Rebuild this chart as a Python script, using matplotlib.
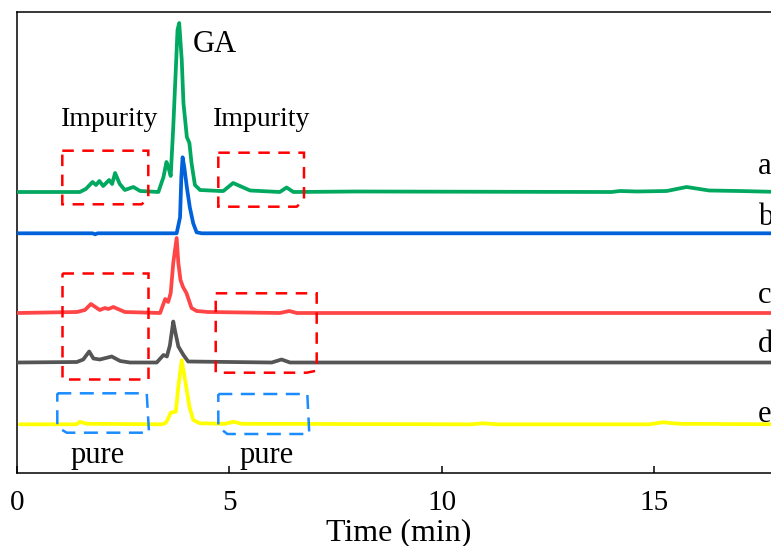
import matplotlib
matplotlib.use("Agg")
import matplotlib.pyplot as plt
from matplotlib.patches import Polygon

plt.rcParams['font.family'] = ['Liberation Serif', 'DejaVu Serif']

# ---- data: retention time (min) and signal above each trace's baseline ----
t_a = [0, 1.48, 1.62, 1.78, 1.86, 1.94, 2.03, 2.17, 2.24, 2.31, 2.42, 2.54, 2.74, 2.90,
       3.33, 3.45, 3.52, 3.57, 3.62, 3.68, 3.75, 3.78, 3.82, 3.88, 3.92, 4.00, 4.06,
       4.11, 4.19, 4.31, 4.78, 4.86, 5.09, 5.49, 6.19, 6.35, 6.51, 8.0, 14.0, 14.2,
       14.6, 15.3, 15.77, 16.3, 17.0, 18.0]
s_a = [0, 0, 3, 10, 7, 11, 6, 12, 8, 19, 8, 2, 5, 1,
       0, 15, 30, 24, 16, 65, 132, 162, 169, 132, 89, 55, 49,
       29, 7, 2, 1, 1, 9, 1.5, 0, 4.5, 0, 0.5, 0, 1,
       0.5, 1, 5, 1.5, 1, 0]

t_b = [0, 1.78, 1.84, 1.90, 3.76, 3.84, 3.87, 3.90, 3.94, 4.00, 4.07, 4.15, 4.23, 4.35, 18.0]
s_b = [0, 0, -1, 0, 0, 16, 56, 76, 66, 46, 26, 10, 1, 0, 0]

t_c = [0, 1.41, 1.60, 1.74, 1.95, 2.07, 2.15, 2.27, 2.54, 3.37, 3.49, 3.56, 3.62, 3.68,
       3.76, 3.80, 3.85, 3.91, 3.99, 4.11, 4.23, 4.5, 6.19, 6.41, 6.59, 18.0]
s_c = [0, 1, 3, 9, 3, 5, 4, 6, 1, 0, 14, 11, 20, 50,
       75, 50, 33, 26, 20, 5, 2, 1, 0, 2, 0, 0]

t_d = [0, 1.41, 1.56, 1.70, 1.80, 1.95, 2.23, 2.43, 2.66, 3.29, 3.45, 3.53, 3.60, 3.68,
       3.72, 3.80, 3.92, 4.03, 6.0, 6.23, 6.43, 18.0]
s_d = [0, 0.5, 3, 11, 4, 3, 6, 1.5, 0, 0, 7.5, 6, 17, 41,
       32, 16, 7.5, 1, 0, 3, 0, 0]

t_e = [0.07, 1.40, 1.48, 1.64, 3.40, 3.49, 3.54, 3.62, 3.74, 3.80, 3.88, 3.96, 4.06,
       4.15, 4.31, 4.9, 5.09, 5.3, 10.7, 10.97, 11.3, 14.9, 15.2, 15.6, 18.0]
s_e = [0, 0, 2.5, 0.5, 0, 1, 4, 11.6, 12.6, 38, 64, 44, 17.6,
       4.3, 1, 0.5, 2.5, 0.5, 0, 1, 0, 0, 2, 0.5, 0]

offsets = [281, 239.7, 160, 110.5, 48.7]
trace_labels = ['a', 'b', 'c', 'd', 'e']
label_y = [299, 248.3, 170, 121, 51.4]
colors = ['#00A860', '#0062DB', '#FF4545', '#555555', '#FFFF00']

x_ticks = [0, 5, 10, 15]

# dashed boxes (time, stacked-signal) corners
red_boxes = [
    [(1.067, 322.3), (3.092, 322.3), (3.092, 275), (2.937, 268.7), (1.067, 268.7)],
    [(4.741, 320.3), (6.759, 320.3), (6.759, 273), (6.587, 266.3), (4.741, 266.3)],
    [(1.067, 199.7), (3.078, 199.7), (3.078, 93.7), (1.067, 93.7)],
    [(4.680, 179.7), (7.058, 179.7), (7.058, 102.3), (6.823, 100.3), (4.680, 100.3)],
]
blue_boxes = [
    [(0.949, 79.7), (3.055, 79.7), (3.109, 40.3), (1.170, 40.3), (0.949, 46)],
    [(4.741, 79), (6.837, 79), (6.884, 39), (4.953, 39), (4.741, 46)],
]

fig = plt.figure(figsize=(7.71, 5.46), dpi=100)
ax = fig.add_axes([17 / 771, 73 / 546, 764.3 / 771, 461 / 546])

series = [(t_a, s_a), (t_b, s_b), (t_c, s_c), (t_d, s_d), (t_e, s_e)]
for (tt, ss), off, col in zip(series, offsets, colors):
    ax.plot(tt, [v + off for v in ss], color=col, lw=2.7, solid_joinstyle='round',
            solid_capstyle='round', zorder=3)

for pts in red_boxes:
    ax.add_patch(Polygon(pts, closed=True, fill=False, edgecolor='#FF0000', lw=1.8,
                         linestyle=(0, (4.6, 3.4)), zorder=4))
for pts in blue_boxes:
    ax.add_patch(Polygon(pts, closed=True, fill=False, edgecolor='#1A8CFF', lw=1.8,
                         linestyle=(0, (5.6, 3.4)), zorder=4))

for lab, yy in zip(trace_labels, label_y):
    ax.text(17.45, yy, lab, fontsize=22, va='baseline', ha='left')

ax.text(4.145, 421.3, 'GA', fontsize=22, va='baseline', ha='left')
ax.text(2.176, 347, 'Impurity', fontsize=20, va='baseline', ha='center')
ax.text(5.77, 347, 'Impurity', fontsize=20, va='baseline', ha='center')
ax.text(1.908, 9.7, 'pure', fontsize=22, va='baseline', ha='center')
ax.text(5.88, 9.7, 'pure', fontsize=22, va='baseline', ha='center')

ax.set_xlim(0, 18)
ax.set_ylim(0, 461)
ax.set_xticks(x_ticks)
ax.set_xticklabels([str(v) for v in x_ticks])
ax.set_yticks([])
ax.tick_params(axis='x', direction='in', length=5, width=1.1, labelsize=21, pad=12)
for sp in ['left', 'top', 'bottom', 'right']:
    ax.spines[sp].set_linewidth(1.1)
ax.set_xlabel('Time (min)', fontsize=23, labelpad=2)

fig.savefig('out.png', dpi=100)
